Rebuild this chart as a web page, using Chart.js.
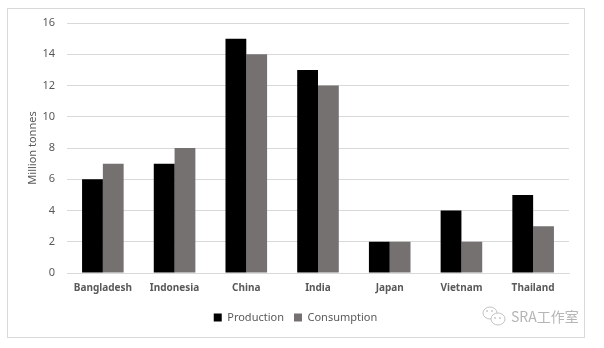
<!DOCTYPE html>
<html>
<head>
<meta charset="utf-8">
<script src="https://cdn.jsdelivr.net/npm/chart.js@4"></script>
<style>
  html, body { margin: 0; padding: 0; background: #ffffff; }
  #wrap { position: relative; width: 604px; height: 348px; }
</style>
</head>
<body>
<div id="wrap"><canvas id="chart" width="604" height="348"></canvas></div>
<script>
// Rice production vs consumption by country (million tonnes)
const countries = ['Bangladesh', 'Indonesia', 'China', 'India', 'Japan', 'Vietnam', 'Thailand'];
const production = [6, 7, 15, 13, 2, 4, 5];
const consumption = [7, 8, 14, 12, 2, 2, 3];
const yTicks = [0, 2, 4, 6, 8, 10, 12, 14, 16];

const FONT = "'Noto Sans', 'Open Sans', sans-serif";
const TEXT = '#595959';
const GRID = '#d9d9d9';

// Frame around the whole chart plus the small brand mark at the lower right
const framePlugin = {
  id: 'frame',
  beforeDraw(chart) {
    const ctx = chart.ctx;
    ctx.save();
    ctx.fillStyle = '#ffffff';
    ctx.fillRect(0, 0, chart.width, chart.height);
    ctx.strokeStyle = GRID;
    ctx.lineWidth = 1;
    ctx.strokeRect(7.5, 8.5, 577, 329);
    ctx.restore();
  },
  afterDraw(chart) {
    const ctx = chart.ctx;
    ctx.save();
    // two overlapping chat bubbles
    ctx.strokeStyle = '#c4c4c4';
    ctx.lineWidth = 1;
    ctx.beginPath();
    ctx.ellipse(490, 313, 7, 6, 0, 0, Math.PI * 2);
    ctx.stroke();
    ctx.fillStyle = '#ffffff';
    ctx.beginPath();
    ctx.ellipse(498, 319, 7, 6, 0, 0, Math.PI * 2);
    ctx.fill();
    ctx.stroke();
    ctx.fillStyle = '#c4c4c4';
    [[487, 311], [492, 311], [495, 318], [500, 318]].forEach(([x, y]) => {
      ctx.beginPath(); ctx.arc(x, y, 0.9, 0, Math.PI * 2); ctx.fill();
    });
    ctx.fillStyle = '#b5b5b5';
    ctx.font = "14px 'Noto Sans CJK SC', " + FONT;
    ctx.textBaseline = 'middle';
    ctx.fillText('SRA工作室', 511, 317);
    ctx.restore();
  }
};

new Chart(document.getElementById('chart'), {
  type: 'bar',
  data: {
    labels: countries,
    datasets: [
      { label: 'Production', data: production, backgroundColor: '#000000' },
      { label: 'Consumption', data: consumption, backgroundColor: '#767171' }
    ]
  },
  options: {
    responsive: false,
    animation: false,
    devicePixelRatio: 1,
    layout: { padding: { left: 22, right: 35, top: 23, bottom: 15 } },
    datasets: { bar: { barPercentage: 1, categoryPercentage: 0.58 } },
    plugins: {
      legend: {
        position: 'bottom',
        labels: {
          boxWidth: 8, boxHeight: 8, padding: 10,
          color: TEXT,
          font: { family: FONT, size: 11 }
        }
      },
      tooltip: { enabled: false }
    },
    scales: {
      x: {
        grid: { display: false, drawTicks: false },
        border: { color: GRID },
        ticks: { color: TEXT, padding: 9, font: { family: FONT, size: 10, weight: 'bold' } },
        afterFit(scale) { scale.height = 29; }
      },
      y: {
        min: 0, max: 16,
        afterBuildTicks(scale) { scale.ticks = yTicks.map(v => ({ value: v })); },
        grid: { color: GRID, drawTicks: false },
        border: { display: false },
        ticks: { color: TEXT, padding: 12, font: { family: FONT, size: 11 } },
        title: { display: true, text: 'Million tonnes', color: TEXT, font: { family: FONT, size: 11 } },
        afterFit(scale) { scale.width = 45; }
      }
    }
  },
  plugins: [framePlugin]
});
</script>
</body>
</html>
